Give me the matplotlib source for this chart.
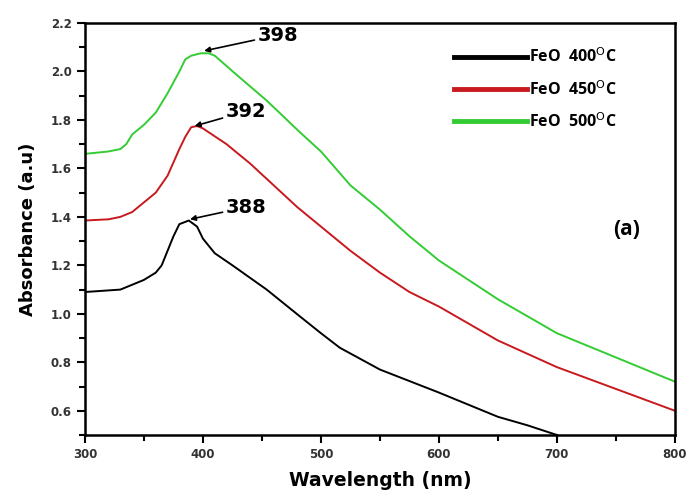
import numpy as np
import matplotlib
matplotlib.use('Agg')
import matplotlib.pyplot as plt
from matplotlib.ticker import MultipleLocator

plt.rcParams['font.family'] = ['Liberation Sans', 'DejaVu Sans']

# Data
wl_400 = [300, 330, 340, 350, 360, 365, 370, 375, 380, 388, 395, 400, 410, 425, 454, 482, 500, 516, 550, 600, 650, 675, 700]
abs_400 = [1.09, 1.10, 1.12, 1.14, 1.17, 1.20, 1.26, 1.32, 1.37, 1.385, 1.36, 1.31, 1.25, 1.20, 1.10, 0.99, 0.92, 0.86, 0.77, 0.675, 0.575, 0.54, 0.50]

wl_450 = [300, 320, 330, 340, 350, 360, 370, 380, 385, 390, 395, 400, 420, 440, 460, 480, 500, 525, 550, 575, 600, 650, 700, 750, 800]
abs_450 = [1.385, 1.39, 1.40, 1.42, 1.46, 1.50, 1.57, 1.68, 1.73, 1.77, 1.775, 1.765, 1.70, 1.62, 1.53, 1.44, 1.36, 1.26, 1.17, 1.09, 1.03, 0.89, 0.78, 0.69, 0.60]

wl_500 = [300, 320, 330, 335, 340, 350, 360, 370, 380, 385, 390, 398, 405, 410, 430, 454, 482, 500, 525, 550, 575, 600, 650, 700, 750, 800]
abs_500 = [1.66, 1.67, 1.68, 1.70, 1.74, 1.78, 1.83, 1.91, 2.00, 2.05, 2.065, 2.075, 2.075, 2.065, 1.98, 1.88, 1.75, 1.67, 1.53, 1.43, 1.32, 1.22, 1.06, 0.92, 0.82, 0.72]

labels = ['FeO  400$^{\\rm O}$C', 'FeO  450$^{\\rm O}$C', 'FeO  500$^{\\rm O}$C']
peaks = ['398', '392', '388']
peak_xy = [(401, 2.085), (393, 1.775), (389, 1.39)]
text_xy = [(446, 2.15), (419, 1.835), (419, 1.44)]

fig = plt.figure(figsize=(6.88, 4.96), dpi=100)
ax = fig.add_axes([0.1235, 0.123, 0.8575, 0.8306])

ax.plot(wl_400, abs_400, color='black', lw=1.4, label=labels[0])
ax.plot(wl_450, abs_450, color='#c8191e', lw=1.4, label=labels[1])
ax.plot(wl_500, abs_500, color='#33cc33', lw=1.4, label=labels[2])

ax.set_xlim(300, 800)
ax.set_ylim(0.5, 2.2)
ax.xaxis.set_major_locator(MultipleLocator(100))
ax.xaxis.set_minor_locator(MultipleLocator(50))
ax.yaxis.set_major_locator(MultipleLocator(0.2))
ax.yaxis.set_minor_locator(MultipleLocator(0.1))
ax.yaxis.set_major_formatter(plt.FormatStrFormatter('%.1f'))
ax.tick_params(which='both', direction='out', width=1.5, labelsize=8.5)
ax.tick_params(which='major', length=6)
ax.tick_params(which='minor', length=4)
for lab in ax.get_xticklabels() + ax.get_yticklabels():
    lab.set_fontweight('bold')
    lab.set_family('DejaVu Sans')
    lab.set_color('#333333')
for sp in ax.spines.values():
    sp.set_linewidth(1.8)

ax.set_xlabel('Wavelength (nm)', fontsize=13.5, fontweight='bold', labelpad=7, family='DejaVu Sans')
ax.set_ylabel('Absorbance (a.u)', fontsize=13, fontweight='bold', labelpad=10, family='DejaVu Sans')

for p, xy, txy in zip(peaks, peak_xy, text_xy):
    ax.annotate(p, xy=xy, xytext=txy, fontsize=14, fontweight='bold', va='center', ha='left',
                family='DejaVu Sans',
                arrowprops=dict(arrowstyle='-|>', color='black', lw=1.2, shrinkA=0, shrinkB=0,
                                mutation_scale=8))

ax.text(0.918, 0.498, '(a)', transform=ax.transAxes, fontsize=15, fontweight='bold', ha='center', va='center',
        family='Open Sans')

leg = ax.legend(loc='upper right', bbox_to_anchor=(0.925, 0.975), frameon=False, handlelength=4.6,
                handletextpad=0.1, labelspacing=0.85,
                prop={'family': 'Open Sans', 'weight': 'bold', 'size': 11.5})
for line in leg.get_lines():
    line.set_linewidth(3.5)

plt.savefig('out.png', dpi=100)
